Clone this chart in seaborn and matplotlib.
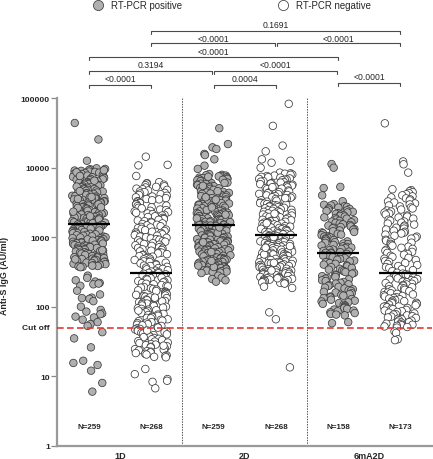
import numpy as np
import pandas as pd
import matplotlib
matplotlib.use('Agg')
import matplotlib.pyplot as plt
import matplotlib.transforms as mtransforms
from matplotlib.ticker import NullLocator
import seaborn as sns

# =============================================================================
# Data (Anti-S IgG, AU/ml)
# =============================================================================
groups = ['1D pos', '1D neg', '2D pos', '2D neg', '6mA2D pos', '6mA2D neg']
group_status = ['RT-PCR positive', 'RT-PCR negative'] * 3
timepoints = ['1D', '2D', '6mA2D']
n_labels = ['N=259', 'N=268', 'N=259', 'N=268', 'N=158', 'N=173']

d1_pos = [44000, 25500, 12600,
          9800, 9600, 9500, 9300, 9100, 9000, 8800, 8700, 8500, 8400,
          8200, 8100, 7900, 7800, 7700, 7500, 7400, 7300, 7100, 7000,
          6900, 6800, 6700, 6600, 6400, 6300, 6200, 6100, 6000, 5900,
          5800, 5700, 5600, 5500, 5400, 5300, 5250, 5150, 5050, 4950,
          4900, 4800, 4700, 4650, 4550, 4500, 4400, 4300, 4250, 4200,
          4100, 4050, 3950, 3900, 3850, 3750, 3700, 3650, 3600, 3500,
          3450, 3400, 3350, 3300, 3250, 3200, 3150, 3100, 3050, 3000,
          2950, 2900, 2850, 2800, 2760, 2720, 2680, 2640, 2600, 2560,
          2520, 2480, 2440, 2400, 2360, 2320, 2290, 2250, 2220, 2180,
          2150, 2120, 2080, 2050, 2020, 1990, 1960, 1930, 1900, 1870,
          1840, 1820, 1790, 1760, 1740, 1710, 1690, 1660, 1640, 1610,
          1590, 1570,
          9200, 8600, 7600, 6500, 5350, 4600, 3800, 3550, 2980, 2700, 2330, 2000, 1800, 1620,
          1550,
          1530, 1510, 1490, 1470, 1450, 1430, 1410, 1390, 1370, 1350,
          1330, 1310, 1290, 1270, 1250, 1230, 1210, 1190, 1170, 1150,
          1140, 1120, 1100, 1080, 1070, 1050, 1030, 1020, 1000, 990,
          970, 960, 940, 930, 910, 900, 890, 870, 860, 850,
          830, 820, 810, 800, 780, 770, 760, 750, 740, 730,
          720, 710, 700, 690, 680, 670, 660, 650, 640, 630,
          620, 610, 600, 590, 580, 570, 565, 555, 545, 535,
          525, 515, 510, 500, 490, 485, 475, 470, 460, 455,
          445, 440, 430, 425, 415, 410, 400, 395, 385, 380,
          375, 370, 390, 480, 650,
          280, 260, 240, 230, 220, 210, 200, 215, 170, 150, 135, 133, 130,
          120, 100, 90, 85, 80, 78, 72, 70, 65, 60, 56, 53,
          43, 35, 26, 16.7, 15.5, 14.5, 12, 8, 6]

d1_neg = [14400, 11000, 10800, 7600,
          6200, 6000, 5900, 5700, 5600, 5400, 5300, 5200, 5000, 4900,
          4800, 4700, 4550, 4450, 4350, 4250, 4150, 4050, 3950, 3850,
          3750, 3650, 3550, 3500, 3400, 3300, 3250, 3150, 3100, 3000,
          2950, 2850, 2800, 2700, 2650, 2600, 2500, 2450, 2400, 2350,
          2300, 2250, 2200, 2150, 2100, 2050, 2000, 1950, 1900, 1860,
          1820, 1780, 1740, 1700, 1660, 1620, 1580, 1550, 1510, 1480,
          1440, 1410, 1380, 1350, 1320, 1290, 1260, 1230, 1200, 1170,
          1150, 1120, 1100, 1070, 1050, 1020, 1000, 980, 960, 940,
          920, 900, 880, 860, 840, 820, 800, 780, 765, 750,
          730, 715, 700, 685, 670, 655, 640, 625, 610, 600,
          585, 570, 560, 550, 535, 525, 510, 500, 490, 480,
          470, 460, 450, 440, 430, 420, 410, 400, 390, 385,
          375, 365, 360, 350, 345, 335, 330, 320, 315,
          307, 303,
          298, 292, 285, 280, 273, 268, 262, 256, 250, 245,
          240, 234, 229, 224, 219, 214, 210, 205, 200, 196,
          192, 188, 184, 180, 176, 172, 168, 165, 161, 158,
          154, 151, 148, 145, 142, 139, 136, 133, 130, 127,
          124, 121, 119, 116, 114, 111, 109, 106, 104, 102,
          100, 97, 95, 93, 91, 89, 87, 85, 83, 81,
          79, 77, 76, 74, 72, 71, 69, 68, 66, 65,
          63, 62, 60, 59, 58, 56, 55, 54, 53, 51,
          50, 49, 48, 47, 46, 45, 44, 43, 42, 41,
          40, 39, 38, 37, 36.5, 35.5, 34.5, 34, 33, 32,
          31.5, 30.5, 30, 29, 28.5, 28, 27, 26.5, 26, 25,
          24.5, 24, 23.5, 23, 22.5, 22, 21.5, 21, 20.5, 20,
          19.5, 19, 18.7, 27.5, 45.5, 88, 135,
          12.7, 10.7, 9.1, 8.6, 8.3, 6.7]

d2_pos = [37000, 21900, 19600, 18600, 15800, 15200, 13200, 10700, 9600,
          8100, 7900, 7800, 7700, 7600, 7500, 7300, 7200, 7100, 7000,
          6900, 6800, 6700, 6600, 6500, 6400, 6300, 6200, 6100, 6000,
          5900, 5800, 5700, 5600, 5500, 5400, 5300, 5200, 5150, 5050,
          4950, 4900, 4800, 4700, 4650, 4550, 4500, 4400, 4350, 4250,
          4200, 4100, 4050, 4000, 3900, 3850, 3800, 3700, 3650, 3600,
          3550, 3500, 3400, 3350, 3300, 3250, 3200, 3150, 3100, 3050,
          3000, 2950, 2900, 2860, 2820, 2780, 2740, 2700, 2660, 2620,
          2580, 2540, 2500, 2460, 2420, 2390, 2350, 2320, 2280, 2250,
          2220, 2190, 2160, 2130, 2100, 2070, 2040, 2010, 1980, 1950,
          1920, 1900, 1870, 1840, 1820, 1790, 1770, 1750, 1720, 1700,
          1680, 1660, 1640, 1620, 1600, 1580, 1560, 1540, 1525, 1510,
          7400, 6050, 4600, 3750, 2680, 2110, 1860, 1650, 3470, 5480,
          1500,
          1490, 1470, 1450, 1430, 1410, 1390, 1370, 1350, 1330, 1310,
          1290, 1270, 1260, 1240, 1220, 1200, 1190, 1170, 1150, 1140,
          1120, 1110, 1090, 1080, 1060, 1050, 1030, 1020, 1000, 990,
          980, 970, 950, 940, 930, 920, 900, 890, 880, 870,
          860, 850, 840, 830, 820, 810, 800, 790, 780, 770,
          760, 750, 740, 730, 720, 710, 700, 690, 680, 670,
          665, 655, 645, 640, 630, 620, 615, 605, 600, 590,
          580, 575, 565, 560, 550, 545, 540, 530, 525, 515,
          510, 505, 495, 490, 485, 475, 470, 465, 460, 450,
          445, 440, 435, 430, 425, 415, 410, 405, 400, 395,
          390, 385, 380, 375, 370, 365, 360, 355, 350, 345,
          340, 335, 330, 325, 320, 315, 310, 305, 372, 455,
          612, 845, 1160, 1380,
          280, 262, 250, 240, 229]

d2_neg = [83000, 40000, 20800, 17200, 13200, 12600, 11800, 10000,
          8500, 8300, 8200, 8000, 7900, 7700, 7600, 7400, 7300, 7200,
          7000, 6900, 6800, 6700, 6600, 6400, 6300, 6200, 6100, 6000,
          5900, 5800, 5700, 5600, 5500, 5400, 5300, 5200, 5100, 5000,
          4900, 4800, 4700, 4650, 4550, 4450, 4400, 4300, 4200, 4150,
          4050, 4000, 3900, 3850, 3750, 3700, 3600, 3550, 3500, 3400,
          3350, 3300, 3250, 3150, 3100, 3050, 3000, 2950, 2900, 2850,
          2800, 2750, 2700, 2650, 2600, 2560, 2520, 2480, 2440, 2400,
          2360, 2320, 2280, 2240, 2200, 2160, 2120, 2090, 2050, 2020,
          1990, 1960, 1930, 1900, 1870, 1840, 1810, 1780, 1750, 1720,
          1700, 1670, 1650, 1620, 1600, 1570, 1550, 1530, 1500, 1480,
          1460, 1440, 1420, 1400, 1380, 1360, 1340, 1320, 1300, 1280,
          1260, 1240, 1220, 1200, 1190, 1170, 1150, 1130, 1120, 1100,
          1090, 5250, 3650, 2180, 1590,
          1080, 1068,
          1060, 1045, 1030, 1015, 1000, 990, 975, 960, 950, 935,
          920, 910, 895, 885, 870, 860, 850, 835, 825, 815,
          800, 790, 780, 770, 760, 750, 740, 730, 720, 710,
          700, 690, 680, 672, 662, 654, 645, 636, 628, 620,
          612, 604, 596, 588, 580, 572, 565, 557, 550, 543,
          536, 529, 522, 515, 508, 501, 495, 488, 482, 476,
          470, 464, 458, 452, 446, 440, 434, 428, 423, 418,
          412, 407, 401, 396, 391, 386, 381, 376, 371, 366,
          361, 357, 352, 348, 343, 339, 334, 330, 326, 322,
          318, 314, 310, 306, 302, 298, 294, 290, 287, 283,
          279, 276, 272, 268, 265, 262, 258, 255, 252, 248,
          245, 242, 239, 236, 233, 230, 227, 224, 221, 218,
          215, 1005, 745, 565, 428, 332, 256, 705,
          194, 186,
          83, 66, 13.4]

d6_pos = [11300, 10000, 5300, 5100, 4000, 3300,
          3000, 2930, 2860, 2800, 2730, 2670, 2610, 2550, 2490, 2430,
          2380, 2320, 2270, 2220, 2170, 2120, 2070, 2020, 1980, 1930,
          1890, 1850, 1800, 1760, 1720, 1680, 1640, 1610, 1570, 1530,
          1500, 1470, 1430, 1400, 1370, 1340, 1310, 1280, 1250, 1220,
          1190, 1170, 1140, 1120, 1090, 1070, 1040, 1020, 1000, 975,
          955, 930, 910, 890, 870, 850, 830, 810, 795, 775,
          760, 740, 725, 710, 695, 680, 665, 650, 635, 620,
          610, 600,
          595, 585,
          575, 560, 545, 530, 515, 500, 487, 474, 461, 449,
          437, 425, 414, 403, 392, 381, 371, 361, 351, 342,
          333, 324, 315, 307, 298, 290, 283, 275, 268, 260,
          253, 247, 240, 234, 227, 221, 215, 210, 204, 199,
          193, 188, 183, 178, 173, 169, 164, 160, 156, 152,
          148, 144, 140, 136, 133, 129, 126, 122, 119, 116,
          113, 110, 107, 104, 101, 98, 96, 93, 91, 88,
          86, 83, 81, 79, 77, 75,
          60, 58]

d6_neg = [43500, 12300, 11200, 8500,
          4900, 4750, 4600, 4450, 4300, 4150, 4000, 3870, 3740, 3620,
          3500, 3380, 3270, 3160, 3060, 2960, 2860, 2770, 2680, 2590,
          2500, 2420, 2340, 2260, 2190, 2120, 2050, 1980, 1920, 1850,
          1790, 1730, 1680, 1620, 1570, 1520, 1470, 1420, 1370, 1330,
          1290, 1240, 1200, 1160, 1130, 1090, 1050, 1020, 985, 955,
          920, 890, 860, 835, 805, 780, 755, 730, 705, 680,
          660, 640, 615, 595, 575, 560, 540, 520, 505, 490,
          470, 455, 440, 425, 412, 398, 385, 372, 360, 348,
          336, 325,
          308,
          300, 293, 287, 280, 274, 268, 262, 256, 250, 245,
          240, 234, 229, 224, 219, 214, 209, 205, 200, 196,
          191, 187, 183, 179, 175, 171, 167, 163, 160, 156,
          153, 150, 146, 143, 140, 137, 134, 131, 128, 125,
          122, 120, 117, 114, 112, 110, 107, 105, 102, 100,
          98, 96, 94, 92, 90, 88, 86, 84, 82, 80,
          78, 77, 75, 73, 72, 70, 69, 67, 66, 64,
          63, 61, 60, 59, 57, 56, 55, 54, 53, 52,
          51, 50,
          44, 42, 34, 33]

cut_off = 50

# brackets: (left group, right group, label)
brackets = [(1, 5, '0.1691'),
            (1, 3, '<0.0001'), (3, 5, '<0.0001'),
            (0, 4, '<0.0001'),
            (0, 2, '0.3194'), (2, 4, '<0.0001'),
            (0, 1, '<0.0001'), (2, 3, '0.0004'), (4, 5, '<0.0001')]
# line / text heights in pixels from the top of the figure
bracket_rows = [(31.7, 25), (44.3, 39), (44.3, 39), (58.3, 52.3),
                (71.7, 65.7), (71.7, 65.7), (86, 79.3), (86, 79.3), (84.3, 77.3)]

# =============================================================================
# Build the frame
# =============================================================================
all_values = [d1_pos, d1_neg, d2_pos, d2_neg, d6_pos, d6_neg]
frames = []
for g, s, v in zip(groups, group_status, all_values):
    frames.append(pd.DataFrame({'group': g, 'status': s, 'igg': v}))
df = pd.concat(frames, ignore_index=True)

# =============================================================================
# Plot
# =============================================================================
sns.set_style('ticks')
plt.rcParams['font.family'] = ['Liberation Sans', 'DejaVu Sans']

W, H = 433, 460
fig = plt.figure(figsize=(W / 100, H / 100), dpi=100)
ax = fig.add_axes([57 / W, (H - 446.7) / H, (432 - 57) / W, (446.7 - 99.2) / H])

np.random.seed(7)
palette = {'RT-PCR positive': '#b0b0b0', 'RT-PCR negative': 'white'}
sns.stripplot(data=df, x='group', y='igg', hue='status', order=groups,
              hue_order=['RT-PCR positive', 'RT-PCR negative'], palette=palette,
              jitter=0.27, size=5.4, linewidth=0.55, edgecolor='#3a3a3a',
              log_scale=True, ax=ax, zorder=3)

# median lines
sns.boxplot(data=df, x='group', y='igg', order=groups, width=0.68,
            showfliers=False, showbox=False, showcaps=False, whis=0,
            whiskerprops={'visible': False},
            medianprops={'color': 'black', 'linewidth': 1.6, 'zorder': 5},
            log_scale=True, ax=ax)

ax.set_ylim(1, 100000)
ax.set_xlim(-0.514, 5.506)

# cut off line and separators
ax.axhline(cut_off, color='#e8352e', lw=1.2, ls=(0, (4, 2)), zorder=6)
for xs in [1.5, 3.5]:
    ax.axvline(xs, color='#555555', lw=0.7, ls=(0, (1.5, 1.2)), zorder=1)

# axes styling
ax.set_yticks([1, 10, 100, 1000, 10000, 100000])
ax.set_yticklabels(['1', '10', '100', '1000', '10000', '100000'],
                   fontsize=6.1, fontweight='bold')
ax.yaxis.set_minor_locator(NullLocator())
ax.tick_params(axis='y', length=4, width=0.9, color='#888888', pad=1)
ax.set_xticks([0.5, 2.5, 4.5])
ax.set_xticklabels(timepoints, fontsize=6.5, fontweight='bold')
ax.tick_params(axis='x', length=0, pad=4)
ax.set_xlabel('')
ax.set_ylabel('Anti-S IgG (AU/ml)', fontsize=6.4, fontweight='bold')
ax.yaxis.set_label_coords(-0.128, 0.49)
sns.despine(ax=ax)
for sp in ['left', 'bottom']:
    ax.spines[sp].set_color('#9a9a9a')
    ax.spines[sp].set_linewidth(1.6)

ax.text(-0.02, cut_off, 'Cut off', transform=mtransforms.blended_transform_factory(ax.transAxes, ax.transData),
        ha='right', va='center', fontsize=6.1, fontweight='bold')

for i, lab in enumerate(n_labels):
    ax.text(i, 1.9, lab, ha='center', va='center', fontsize=5.8, fontweight='bold')

# significance brackets
trans = mtransforms.blended_transform_factory(ax.transData, fig.transFigure)
for (a, b, lab), (ly, ty) in zip(brackets, bracket_rows):
    x0 = a + (0.02 if a in (2, 3, 4) and (a, b) not in [(2, 3), (4, 5), (2, 4)] else 0)
    x1 = b - (0.02 if b in (2, 3, 4) and (a, b) not in [(2, 3), (4, 5), (0, 4)] else 0)
    fy = 1 - ly / H
    tip = 3 / H
    ax.plot([x0, x0, x1, x1], [fy - tip, fy, fy, fy - tip], transform=trans,
            clip_on=False, color='#4a4a4a', lw=0.8)
    ax.text((x0 + x1) / 2, 1 - ty / H, lab, transform=trans, ha='center', va='center',
            fontsize=6.2)

# legend on top
sns.move_legend(ax, 'center left', bbox_to_anchor=(93 / W, 1 - 6 / H),
                bbox_transform=fig.transFigure, ncol=2, frameon=False, title=None,
                fontsize=6.9, handlelength=1.0, handletextpad=0.9, columnspacing=10.0,
                borderpad=0, borderaxespad=0, markerscale=1.35)

plt.savefig('out.png', dpi=100)
